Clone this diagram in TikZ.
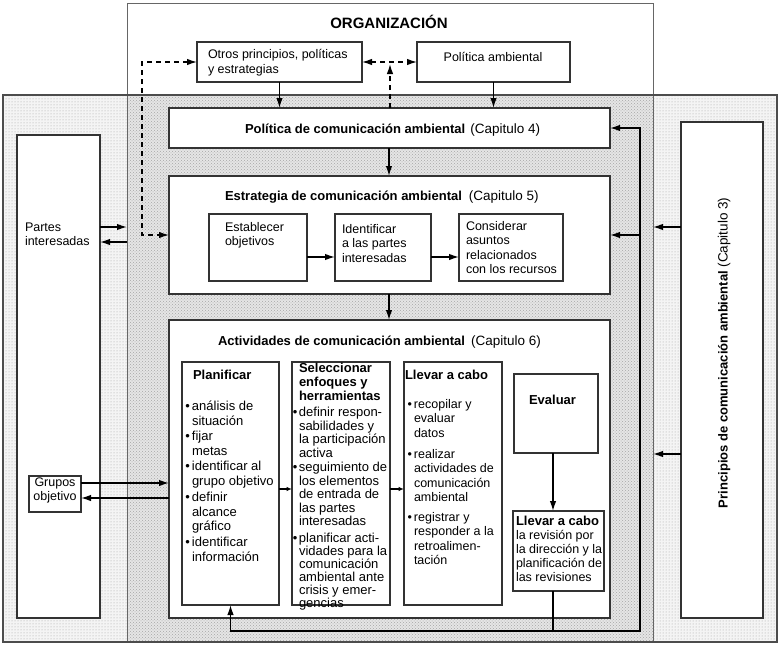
\documentclass[tikz,border=0pt]{standalone}
\usepackage{fontspec}
\setmainfont{Liberation Sans}
\usetikzlibrary{arrows.meta,patterns}
\begin{document}
\begin{tikzpicture}[x=1pt,y=-1pt,
  every node/.style={inner sep=0pt, outer sep=0pt},
  box/.style={draw=black!80, line width=1.1pt, fill=white},
  frame/.style={draw=black!60, line width=0.8pt},
  arr/.style={line width=1.4pt, -{Latex[length=10pt,width=6.5pt]}},
  darr/.style={line width=1.3pt, dash pattern=on 5pt off 4pt, {Latex[length=10pt,width=6.5pt]}-{Latex[length=10pt,width=6.5pt]}},
  dup/.style={line width=1.3pt, dash pattern=on 5pt off 4pt, -{Latex[length=10pt,width=6.5pt]}},
  sarr/.style={line width=1.3pt, -{Latex[length=5.5pt,width=4.5pt]}},
  tx/.style={anchor=north west, align=left, font=\fontsize{12.5}{14.2}\selectfont, execute at begin node=\strut},
  txp/.style={anchor=north west, align=left, font=\fontsize{13}{14.5}\selectfont, execute at begin node=\strut},
  txs/.style={anchor=north west, align=left, font=\fontsize{13}{13.5}\selectfont, execute at begin node=\strut},
  hd/.style={anchor=base west, font=\fontsize{13}{15}\selectfont\bfseries},
  ttl/.style={anchor=base west, font=\fontsize{13}{15}\selectfont},
]
\useasboundingbox (0,0) rectangle (780,648);

% background regions
\node[fill=gray!9, minimum width=774pt, minimum height=547pt] (outer) at (390,368.5) {};
\fill[pattern=dots, pattern color=gray!75] (outer.north west) rectangle (outer.south east);
\node[frame, minimum width=526pt, minimum height=639pt] (org) at (390,322.5) {};
\fill[gray!20] (org.west |- outer.north) rectangle (org.south east);
\fill[pattern=crosshatch dots, pattern color=gray!70] (org.west |- outer.north) rectangle (org.south east);
\draw[frame] (org.north west) rectangle (org.south east);
\draw[draw=black!70, line width=1.3pt] (outer.north west) rectangle (outer.south east);

\node[anchor=base, font=\fontsize{15}{18}\selectfont\bfseries] (orgt) at (389,28.4) {ORGANIZACIÓN};

% boxes
\node[box, minimum width=165pt, minimum height=40pt] (otros) at (279.5,62) {};
\node[box, minimum width=153pt, minimum height=40pt] (polamb) at (493.5,62) {};
\node[box, minimum width=441pt, minimum height=40pt] (polcom) at (389.5,128) {};
\node[box, minimum width=441pt, minimum height=118pt] (estr) at (389.5,235) {};
\node[box, minimum width=98pt, minimum height=67pt] (establecer) at (258,247.5) {};
\node[box, minimum width=96pt, minimum height=67pt] (identificar) at (383,247.5) {};
\node[box, minimum width=104pt, minimum height=67pt] (considerar) at (511,247.5) {};
\node[box, minimum width=441pt, minimum height=298pt] (activ) at (389.5,469) {};
\node[box, minimum width=97pt, minimum height=243pt] (planificar) at (230.5,483.5) {};
\node[box, minimum width=98pt, minimum height=243pt] (seleccionar) at (341,483.5) {};
\node[box, minimum width=98pt, minimum height=243pt] (llevar) at (453,483.5) {};
\node[box, minimum width=84pt, minimum height=79pt] (evaluar) at (556,413.5) {};
\node[box, minimum width=91pt, minimum height=80pt] (revision) at (558.5,551) {};
\node[box, minimum width=83pt, minimum height=483pt] (partes) at (58.5,376.5) {};
\node[box, minimum width=52pt, minimum height=36pt] (grupos) at (55,494) {};
\node[box, minimum width=82pt, minimum height=496pt] (principios) at (722,370) {};

% texts
\node[tx] (otrost) at (208,49.6) {Otros principios, políticas\\y estrategias};
\node[anchor=base, font=\fontsize{12.5}{14.2}\selectfont] (polambt) at (493,61.5) {Política ambiental};
\node[ttl] (polcomt) at (245,133) {\bfseries Política de comunicación ambiental\hspace{5pt}\normalfont\fontsize{13.5}{15}\selectfont(Capitulo 4)};
\node[ttl] (estrt) at (225,200.7) {\bfseries Estrategia de comunicación ambiental\hspace{7pt}\normalfont\fontsize{13.5}{15}\selectfont(Capitulo 5)};
\node[tx] (establecert) at (225,222.6) {Establecer\\objetivos};
\node[tx] (identificart) at (342,224.6) {Identificar\\a las partes\\interesadas};
\node[tx] (considerart) at (466,221.6) {Considerar\\asuntos\\relacionados\\con los recursos};
\node[tx] (partest) at (25,222.6) {Partes\\interesadas};
\node[tx, anchor=north, align=center] (grupost) at (55,477.6) {Grupos\\objetivo};
\node[ttl] (activt) at (218,345.5) {\bfseries Actividades de comunicación ambiental\hspace{6pt}\normalfont\fontsize{13.5}{15}\selectfont(Capitulo 6)};

\node[hd] (planh) at (193,379.7) {Planificar};
\node[txp] (p1) at (192,401.35) {\llap{•\hspace{2pt}}análisis de\\situación};
\node[txp] (p2) at (192,431.35) {\llap{•\hspace{2pt}}fijar\\metas};
\node[txp] (p3) at (192,461.35) {\llap{•\hspace{2pt}}identificar al\\grupo objetivo};
\node[txp] (p4) at (192,492.35) {\llap{•\hspace{2pt}}definir\\alcance\\gráfico};
\node[txp] (p5) at (192,537.35) {\llap{•\hspace{2pt}}identificar\\información};

\node[anchor=north west, align=left, font=\fontsize{13}{14}\selectfont\bfseries, execute at begin node=\strut] (selh) at (299,362.9) {Seleccionar\\enfoques y\\herramientas};
\node[txs] (s1) at (299,407.1) {\llap{•\hspace{1.5pt}}definir respon-\\sabilidades y\\la participación\\activa};
\node[txs] (s2) at (299,462.1) {\llap{•\hspace{1.5pt}}seguimiento de\\los elementos\\de entrada de\\las partes\\interesadas};
\node[txs, font=\fontsize{13}{13.1}\selectfont] (s3) at (299,532.8) {\llap{•\hspace{1.5pt}}planificar acti-\\vidades para la\\comunicación\\ambiental ante\\crisis y emer-\\gencias};

\node[hd] (llevh) at (405,379.7) {Llevar a cabo};
\node[tx] (l1) at (414,399.6) {\llap{•\hspace{2pt}}recopilar y\\evaluar\\datos};
\node[tx] (l2) at (414,449.6) {\llap{•\hspace{2pt}}realizar\\actividades de\\comunicación\\ambiental};
\node[tx] (l3) at (414,512.6) {\llap{•\hspace{2pt}}registrar y\\responder a la\\retroalimen-\\tación};

\node[anchor=base, font=\fontsize{13}{15}\selectfont\bfseries] (evalt) at (552.5,404.7) {Evaluar};
\node[tx] (revt) at (516,515.6) {{\fontsize{13}{14.2}\selectfont\bfseries Llevar a cabo}\\la revisión por\\la dirección y la\\planificación de\\las revisiones};

\node[rotate=90, anchor=base west, font=\fontsize{13}{15}\selectfont] (princt) at (727.7,508) {\bfseries Principios de comunicación ambiental\normalfont\fontsize{13.5}{15}\selectfont\ (Capitulo 3)};

% coordinates
\coordinate (cx) at (553,0);
\coordinate (vx) at (389,0);
\coordinate (dx) at (390,64);
\coordinate (dcorner) at (142,235);
\coordinate (lp) at (640,631);
\coordinate (lb) at (553,631);
\coordinate (ry) at (0,235);

% connectors
\draw[arr] (otros.south) -- (otros.south |- polcom.north);
\draw[arr] (polamb.south) -- (polamb.south |- polcom.north);
\draw[darr] (otros.west) -| (dcorner) -- (dcorner -| estr.west);
\draw[darr] (otros.east) -- (polamb.west);
\draw[dup] (dx |- polcom.north) -- (dx);
\draw[arr] (vx |- polcom.south) -- (vx |- estr.north);
\draw[arr] (vx |- estr.south) -- (vx |- activ.north);
\draw[arr] (establecer.east |- 0,257) -- (identificar.west |- 0,257);
\draw[arr] (identificar.east |- 0,257) -- (considerar.west |- 0,257);

\draw[arr] (partes.east |- 0,227) -- (org.west |- 0,227);
\draw[arr] (org.west |- 0,242) -- (partes.east |- 0,242);
\draw[arr] (grupos.east |- 0,483) -- (activ.west |- 0,483);
\draw[arr] (activ.west |- 0,498) -- (grupos.east |- 0,498);

\draw[sarr] (planificar.east |- 0,489) -- (seleccionar.west |- 0,489);
\draw[sarr] (seleccionar.east |- 0,489) -- (llevar.west |- 0,489);

\draw[arr] (evaluar.south -| cx) -- (revision.north -| cx);
\draw[arr] (revision.south -| cx) |- (lp) |- (polcom.east);
\draw[arr] (lb) -| (planificar.south);
\draw[arr] (lp |- ry) -- (estr.east |- ry);

\draw[arr] (principios.west |- 0,227) -- (org.east |- 0,227);
\draw[arr] (principios.west |- 0,454) -- (org.east |- 0,454);
\end{tikzpicture}
\end{document}
